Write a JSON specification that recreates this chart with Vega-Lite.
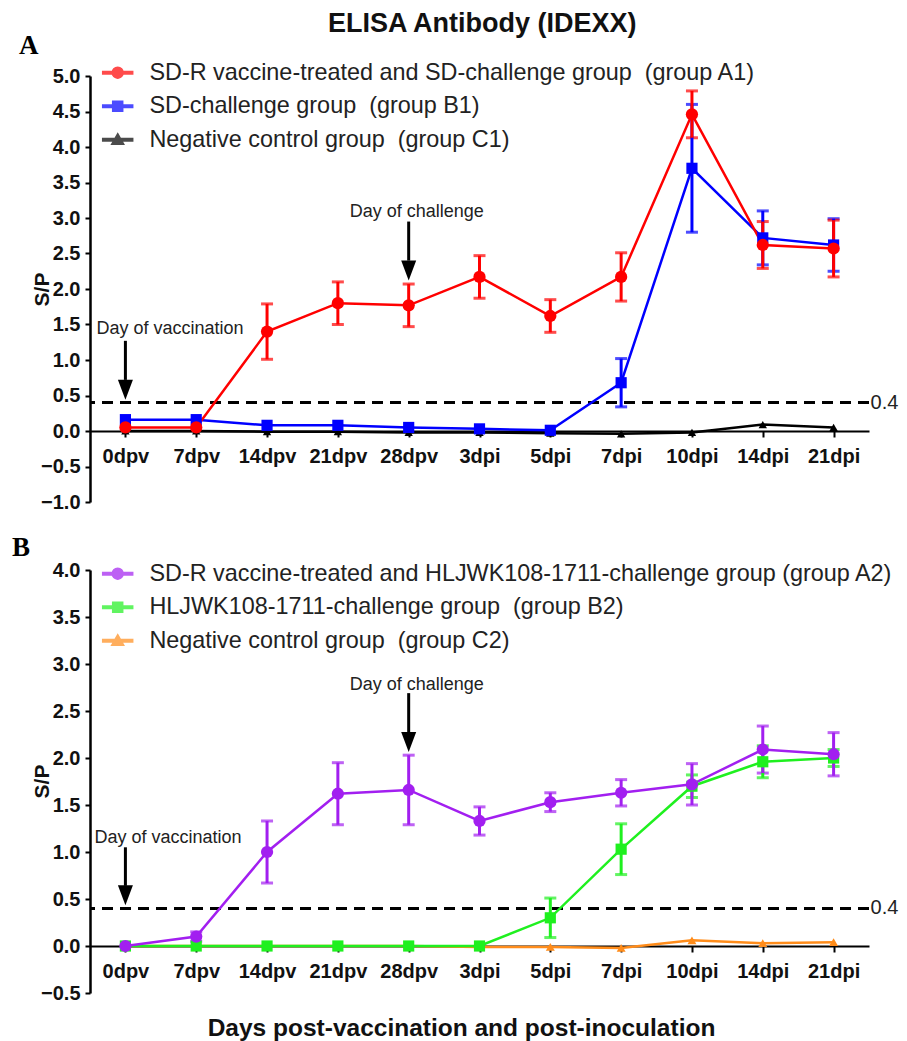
{
  "$schema": "https://vega.github.io/schema/vega-lite/v6.json",
  "background": "white",
  "padding": {"left": 12, "top": 10, "right": 4, "bottom": 4},
  "title": {"text": "ELISA Antibody (IDEXX)", "font": "Liberation Sans", "fontSize": 27, "fontWeight": "bold", "color": "#111", "anchor": "middle", "offset": -6, "dx": 27},
  "config": {
    "view": {"stroke": null},
    "axis": {"grid": false, "domainColor": "#000", "tickColor": "#000", "labelColor": "#111", "titleColor": "#111", "labelFont": "Liberation Sans", "titleFont": "Liberation Sans", "labelFontWeight": "bold", "titleFontWeight": "bold", "labelOverlap": false}
  },
  "datasets": {
    "sp": [
      {"panel": "A", "group": "C1", "day": "0dpv", "sp": 0.0, "sd": 0},
      {"panel": "A", "group": "C1", "day": "7dpv", "sp": 0.0, "sd": 0},
      {"panel": "A", "group": "C1", "day": "14dpv", "sp": -0.01, "sd": 0},
      {"panel": "A", "group": "C1", "day": "21dpv", "sp": -0.01, "sd": 0},
      {"panel": "A", "group": "C1", "day": "28dpv", "sp": -0.02, "sd": 0},
      {"panel": "A", "group": "C1", "day": "3dpi", "sp": -0.02, "sd": 0},
      {"panel": "A", "group": "C1", "day": "5dpi", "sp": -0.03, "sd": 0},
      {"panel": "A", "group": "C1", "day": "7dpi", "sp": -0.04, "sd": 0},
      {"panel": "A", "group": "C1", "day": "10dpi", "sp": -0.02, "sd": 0},
      {"panel": "A", "group": "C1", "day": "14dpi", "sp": 0.09, "sd": 0},
      {"panel": "A", "group": "C1", "day": "21dpi", "sp": 0.05, "sd": 0},
      {"panel": "A", "group": "B1", "day": "0dpv", "sp": 0.16, "sd": 0},
      {"panel": "A", "group": "B1", "day": "7dpv", "sp": 0.16, "sd": 0},
      {"panel": "A", "group": "B1", "day": "14dpv", "sp": 0.08, "sd": 0},
      {"panel": "A", "group": "B1", "day": "21dpv", "sp": 0.08, "sd": 0},
      {"panel": "A", "group": "B1", "day": "28dpv", "sp": 0.05, "sd": 0},
      {"panel": "A", "group": "B1", "day": "3dpi", "sp": 0.03, "sd": 0},
      {"panel": "A", "group": "B1", "day": "5dpi", "sp": 0.01, "sd": 0},
      {"panel": "A", "group": "B1", "day": "7dpi", "sp": 0.68, "sd": 0.34},
      {"panel": "A", "group": "B1", "day": "10dpi", "sp": 3.70, "sd": 0.90},
      {"panel": "A", "group": "B1", "day": "14dpi", "sp": 2.72, "sd": 0.38},
      {"panel": "A", "group": "B1", "day": "21dpi", "sp": 2.62, "sd": 0.37},
      {"panel": "A", "group": "A1", "day": "0dpv", "sp": 0.05, "sd": 0},
      {"panel": "A", "group": "A1", "day": "7dpv", "sp": 0.05, "sd": 0},
      {"panel": "A", "group": "A1", "day": "14dpv", "sp": 1.40, "sd": 0.39},
      {"panel": "A", "group": "A1", "day": "21dpv", "sp": 1.80, "sd": 0.30},
      {"panel": "A", "group": "A1", "day": "28dpv", "sp": 1.77, "sd": 0.30},
      {"panel": "A", "group": "A1", "day": "3dpi", "sp": 2.17, "sd": 0.30},
      {"panel": "A", "group": "A1", "day": "5dpi", "sp": 1.62, "sd": 0.23},
      {"panel": "A", "group": "A1", "day": "7dpi", "sp": 2.17, "sd": 0.34},
      {"panel": "A", "group": "A1", "day": "10dpi", "sp": 4.46, "sd": 0.33},
      {"panel": "A", "group": "A1", "day": "14dpi", "sp": 2.62, "sd": 0.33},
      {"panel": "A", "group": "A1", "day": "21dpi", "sp": 2.57, "sd": 0.40},
      {"panel": "B", "group": "C2", "day": "0dpv", "sp": 0.0, "sd": 0},
      {"panel": "B", "group": "C2", "day": "7dpv", "sp": 0.0, "sd": 0},
      {"panel": "B", "group": "C2", "day": "14dpv", "sp": 0.0, "sd": 0},
      {"panel": "B", "group": "C2", "day": "21dpv", "sp": 0.0, "sd": 0},
      {"panel": "B", "group": "C2", "day": "28dpv", "sp": 0.0, "sd": 0},
      {"panel": "B", "group": "C2", "day": "3dpi", "sp": -0.01, "sd": 0},
      {"panel": "B", "group": "C2", "day": "5dpi", "sp": -0.01, "sd": 0},
      {"panel": "B", "group": "C2", "day": "7dpi", "sp": -0.02, "sd": 0},
      {"panel": "B", "group": "C2", "day": "10dpi", "sp": 0.06, "sd": 0},
      {"panel": "B", "group": "C2", "day": "14dpi", "sp": 0.03, "sd": 0},
      {"panel": "B", "group": "C2", "day": "21dpi", "sp": 0.04, "sd": 0},
      {"panel": "B", "group": "B2", "day": "0dpv", "sp": 0.0, "sd": 0},
      {"panel": "B", "group": "B2", "day": "7dpv", "sp": 0.0, "sd": 0},
      {"panel": "B", "group": "B2", "day": "14dpv", "sp": 0.0, "sd": 0},
      {"panel": "B", "group": "B2", "day": "21dpv", "sp": 0.0, "sd": 0},
      {"panel": "B", "group": "B2", "day": "28dpv", "sp": 0.0, "sd": 0},
      {"panel": "B", "group": "B2", "day": "3dpi", "sp": 0.0, "sd": 0},
      {"panel": "B", "group": "B2", "day": "5dpi", "sp": 0.30, "sd": 0.21},
      {"panel": "B", "group": "B2", "day": "7dpi", "sp": 1.03, "sd": 0.27},
      {"panel": "B", "group": "B2", "day": "10dpi", "sp": 1.70, "sd": 0.12},
      {"panel": "B", "group": "B2", "day": "14dpi", "sp": 1.96, "sd": 0.17},
      {"panel": "B", "group": "B2", "day": "21dpi", "sp": 2.00, "sd": 0.09},
      {"panel": "B", "group": "A2", "day": "0dpv", "sp": 0.0, "sd": 0},
      {"panel": "B", "group": "A2", "day": "7dpv", "sp": 0.10, "sd": 0.05},
      {"panel": "B", "group": "A2", "day": "14dpv", "sp": 1.00, "sd": 0.33},
      {"panel": "B", "group": "A2", "day": "21dpv", "sp": 1.62, "sd": 0.33},
      {"panel": "B", "group": "A2", "day": "28dpv", "sp": 1.66, "sd": 0.37},
      {"panel": "B", "group": "A2", "day": "3dpi", "sp": 1.33, "sd": 0.15},
      {"panel": "B", "group": "A2", "day": "5dpi", "sp": 1.53, "sd": 0.10},
      {"panel": "B", "group": "A2", "day": "7dpi", "sp": 1.63, "sd": 0.14},
      {"panel": "B", "group": "A2", "day": "10dpi", "sp": 1.72, "sd": 0.22},
      {"panel": "B", "group": "A2", "day": "14dpi", "sp": 2.09, "sd": 0.25},
      {"panel": "B", "group": "A2", "day": "21dpi", "sp": 2.04, "sd": 0.23}
    ],
    "cutoff": [{"cutoff": 0.4}],
    "arrows": [
      {"panel": "A", "day": "0dpv", "top": 1.27, "base": 0.72, "head": 0.58},
      {"panel": "A", "day": "28dpv", "top": 2.95, "base": 2.40, "head": 2.26},
      {"panel": "B", "day": "0dpv", "top": 1.05, "base": 0.64, "head": 0.54},
      {"panel": "B", "day": "28dpv", "top": 2.69, "base": 2.27, "head": 2.17}
    ],
    "notes": [
      {"panel": "A", "kind": "vacc", "day": "0dpv", "y": 1.43, "label": "Day of vaccination"},
      {"panel": "A", "kind": "chal", "day": "28dpv", "y": 3.08, "label": "Day of challenge"},
      {"panel": "B", "kind": "vacc", "day": "0dpv", "y": 1.15, "label": "Day of vaccination"},
      {"panel": "B", "kind": "chal", "day": "28dpv", "y": 2.78, "label": "Day of challenge"}
    ]
  },
  "spacing": 22,
  "resolve": {"scale": {"color": "independent", "shape": "independent", "y": "independent"}, "legend": {"color": "independent"}},
  "vconcat": [
    {
      "width": 779, "height": 426,
      "title": {"text": "A", "anchor": "start", "frame": "group", "font": "Liberation Serif", "fontSize": 27, "fontWeight": "bold", "dx": -71, "offset": 1, "color": "#000"},
      "layer": [
        {
          "data": {"name": "cutoff"},
          "mark": {"type": "rule", "strokeDash": [11, 7], "strokeWidth": 3, "color": "#000"},
          "encoding": {"y": {"field": "cutoff", "type": "quantitative", "title": "S/P"}}
        },
        {
          "data": {"name": "cutoff"},
          "mark": {"type": "text", "align": "left", "baseline": "middle", "dx": 37, "fontSize": 20, "font": "Liberation Sans", "color": "#222"},
          "encoding": {
            "x": {"datum": "21dpi", "type": "ordinal", "title": null},
            "y": {"field": "cutoff", "type": "quantitative", "title": "S/P"},
            "text": {"field": "cutoff", "type": "quantitative", "format": ".1f"}
          }
        },
        {
          "data": {"name": "sp"},
          "transform": [{"filter": "datum.panel == 'A'"}],
          "mark": {"type": "line", "strokeWidth": 2.5},
          "encoding": {
            "x": {"field": "day", "type": "ordinal", "title": null, "sort": ["0dpv","7dpv","14dpv","21dpv","28dpv","3dpi","5dpi","7dpi","10dpi","14dpi","21dpi"],
                  "scale": {"type": "point", "padding": 0.5, "domain": ["0dpv","7dpv","14dpv","21dpv","28dpv","3dpi","5dpi","7dpi","10dpi","14dpi","21dpi"]},
                  "axis": {"offset": -71, "labelFontSize": 20, "labelPadding": 9, "labelAlign": "center", "labelBaseline": "top", "tickSize": 6, "tickWidth": 2, "domainWidth": 2, "labelAngle": 0}},
            "y": {"field": "sp", "type": "quantitative", "title": "S/P",
                  "scale": {"domain": [-1, 5], "nice": false, "zero": false},
                  "axis": {"values": [-1, -0.5, 0, 0.5, 1, 1.5, 2, 2.5, 3, 3.5, 4, 4.5, 5], "tickCount": 13, "labelOverlap": false, "format": ".1f", "labelFontSize": 20, "tickSize": 5, "tickWidth": 2, "domainWidth": 2.5, "labelPadding": 5, "titleFontSize": 21, "titleX": -48, "titleY": 213, "titleBaseline": "middle"}},
            "color": {"field": "group", "type": "nominal",
                      "scale": {"domain": ["A1", "B1", "C1"], "range": ["#ff0000", "#0000ff", "#000000"]},
                      "legend": {"orient": "none", "legendX": 16, "legendY": -15, "title": null, "symbolSize": 400, "symbolOpacity": 1, "labelFontSize": 23.4, "labelFont": "Liberation Sans", "labelColor": "#222", "labelOffset": 20, "rowPadding": 8.5, "labelLimit": 900,
                                 "labelExpr": "datum.value == 'A1' ? 'SD-R vaccine-treated and SD-challenge group\u00a0 (group A1)' : datum.value == 'B1' ? 'SD-challenge group\u00a0 (group B1)' : 'Negative control group\u00a0 (group C1)'"}}
          }
        },
        {
          "data": {"name": "sp"},
          "transform": [{"filter": "datum.panel == 'A' && datum.sd > 0"}],
          "mark": {"type": "errorbar", "ticks": true, "size": 12, "thickness": 3},
          "encoding": {
            "x": {"field": "day", "type": "ordinal", "title": null},
            "y": {"field": "sp", "type": "quantitative", "title": "S/P"},
            "yError": {"field": "sd"},
            "color": {"field": "group", "type": "nominal"}
          }
        },
        {
          "data": {"name": "sp"},
          "transform": [{"filter": "datum.panel == 'A'"}],
          "mark": {"type": "point", "filled": true, "size": 0, "opacity": 1},
          "encoding": {
            "x": {"field": "day", "type": "ordinal", "title": null},
            "y": {"field": "sp", "type": "quantitative", "title": "S/P"},
            "color": {"field": "group", "type": "nominal"},
            "shape": {"field": "group", "type": "nominal", "legend": null,
                      "scale": {"domain": ["A1", "B1", "C1"], "range": ["M-1.5,-0.13H-0.5V0.13H-1.5ZM0.5,-0.13H1.5V0.13H0.5ZM-0.55,0A0.55,0.55,0,1,0,0.55,0A0.55,0.55,0,1,0,-0.55,0Z", "M-1.5,-0.13H-0.5V0.13H-1.5ZM0.5,-0.13H1.5V0.13H0.5ZM-0.5,-0.5H0.5V0.5H-0.5Z", "M-1.5,-0.13H-0.32V0.13H-1.5ZM0.32,-0.13H1.5V0.13H0.32ZM0,-0.6L0.6,0.45L-0.6,0.45Z"]}}
          }
        },
        {
          "data": {"name": "sp"},
          "transform": [{"filter": "datum.panel == 'A' && datum.group == 'C1'"}],
          "mark": {"type": "point", "shape": "triangle-up", "filled": true, "opacity": 1, "size": 70},
          "encoding": {
            "x": {"field": "day", "type": "ordinal", "title": null},
            "y": {"field": "sp", "type": "quantitative", "title": "S/P"},
            "color": {"field": "group", "type": "nominal"}
          }
        },
        {
          "data": {"name": "sp"},
          "transform": [{"filter": "datum.panel == 'A' && datum.group == 'B1'"}],
          "mark": {"type": "point", "shape": "square", "filled": true, "opacity": 1, "size": 125},
          "encoding": {
            "x": {"field": "day", "type": "ordinal", "title": null},
            "y": {"field": "sp", "type": "quantitative", "title": "S/P"},
            "color": {"field": "group", "type": "nominal"}
          }
        },
        {
          "data": {"name": "sp"},
          "transform": [{"filter": "datum.panel == 'A' && datum.group == 'A1'"}],
          "mark": {"type": "point", "shape": "circle", "filled": true, "opacity": 1, "size": 150},
          "encoding": {
            "x": {"field": "day", "type": "ordinal", "title": null},
            "y": {"field": "sp", "type": "quantitative", "title": "S/P"},
            "color": {"field": "group", "type": "nominal"}
          }
        },
        {
          "data": {"name": "arrows"},
          "transform": [{"filter": "datum.panel == 'A'"}],
          "mark": {"type": "rule", "strokeWidth": 3, "color": "#000"},
          "encoding": {
            "x": {"field": "day", "type": "ordinal", "title": null},
            "y": {"field": "top", "type": "quantitative", "title": "S/P"},
            "y2": {"field": "base"}
          }
        },
        {
          "data": {"name": "arrows"},
          "transform": [{"filter": "datum.panel == 'A'"}],
          "mark": {"type": "point", "shape": "M-0.75,-1L0.75,-1L0,1Z", "size": 400, "filled": true, "color": "#000", "opacity": 1},
          "encoding": {
            "x": {"field": "day", "type": "ordinal", "title": null},
            "y": {"field": "head", "type": "quantitative", "title": "S/P"}
          }
        },
        {
          "data": {"name": "notes"},
          "transform": [{"filter": "datum.panel == 'A' && datum.kind == 'vacc'"}],
          "mark": {"type": "text", "align": "left", "baseline": "middle", "dx": -29, "fontSize": 18, "font": "Liberation Sans", "color": "#222"},
          "encoding": {
            "x": {"field": "day", "type": "ordinal", "title": null},
            "y": {"field": "y", "type": "quantitative", "title": "S/P"},
            "text": {"field": "label"}
          }
        },
        {
          "data": {"name": "notes"},
          "transform": [{"filter": "datum.panel == 'A' && datum.kind == 'chal'"}],
          "mark": {"type": "text", "align": "left", "baseline": "middle", "dx": -59, "fontSize": 18, "font": "Liberation Sans", "color": "#222"},
          "encoding": {
            "x": {"field": "day", "type": "ordinal", "title": null},
            "y": {"field": "y", "type": "quantitative", "title": "S/P"},
            "text": {"field": "label"}
          }
        }
      ]
    },
    {
      "width": 779, "height": 423,
      "title": {"text": "B", "anchor": "start", "frame": "group", "font": "Liberation Serif", "fontSize": 27, "fontWeight": "bold", "dx": -78, "offset": -2, "color": "#000"},
      "layer": [
        {
          "data": {"name": "cutoff"},
          "mark": {"type": "rule", "strokeDash": [11, 7], "strokeWidth": 3, "color": "#000"},
          "encoding": {"y": {"field": "cutoff", "type": "quantitative", "title": "S/P"}}
        },
        {
          "data": {"name": "cutoff"},
          "mark": {"type": "text", "align": "left", "baseline": "middle", "dx": 37, "fontSize": 20, "font": "Liberation Sans", "color": "#222"},
          "encoding": {
            "x": {"datum": "21dpi", "type": "ordinal", "title": "Days post-vaccination and post-inoculation"},
            "y": {"field": "cutoff", "type": "quantitative", "title": "S/P"},
            "text": {"field": "cutoff", "type": "quantitative", "format": ".1f"}
          }
        },
        {
          "data": {"name": "sp"},
          "transform": [{"filter": "datum.panel == 'B'"}],
          "mark": {"type": "line", "strokeWidth": 2.5},
          "encoding": {
            "x": {"field": "day", "type": "ordinal", "title": "Days post-vaccination and post-inoculation", "sort": ["0dpv","7dpv","14dpv","21dpv","28dpv","3dpi","5dpi","7dpi","10dpi","14dpi","21dpi"],
                  "scale": {"type": "point", "padding": 0.5, "domain": ["0dpv","7dpv","14dpv","21dpv","28dpv","3dpi","5dpi","7dpi","10dpi","14dpi","21dpi"]},
                  "axis": {"offset": -47, "labelFontSize": 20, "labelPadding": 9, "labelAlign": "center", "labelBaseline": "top", "tickSize": 6, "tickWidth": 2, "domainWidth": 2, "labelAngle": 0, "titleFontSize": 24.5, "titleX": 371, "titleY": 82, "titleBaseline": "middle"}},
            "y": {"field": "sp", "type": "quantitative", "title": "S/P",
                  "scale": {"domain": [-0.5, 4], "nice": false, "zero": false},
                  "axis": {"values": [-0.5, 0, 0.5, 1, 1.5, 2, 2.5, 3, 3.5, 4], "labelOverlap": false, "format": ".1f", "labelFontSize": 20, "tickSize": 5, "tickWidth": 2, "domainWidth": 2.5, "labelPadding": 5, "titleFontSize": 21, "titleX": -48, "titleY": 211, "titleBaseline": "middle"}},
            "color": {"field": "group", "type": "nominal",
                      "scale": {"domain": ["A2", "B2", "C2"], "range": ["#a21ff0", "#1ff01f", "#ff8c1a"]},
                      "legend": {"orient": "none", "legendX": 16, "legendY": -8, "title": null, "symbolSize": 400, "symbolOpacity": 1, "labelFontSize": 23.4, "labelFont": "Liberation Sans", "labelColor": "#222", "labelOffset": 20, "rowPadding": 8.5, "labelLimit": 900,
                                 "labelExpr": "datum.value == 'A2' ? 'SD-R vaccine-treated and HLJWK108-1711-challenge group (group A2)' : datum.value == 'B2' ? 'HLJWK108-1711-challenge group\u00a0 (group B2)' : 'Negative control group\u00a0 (group C2)'"}}
          }
        },
        {
          "data": {"name": "sp"},
          "transform": [{"filter": "datum.panel == 'B' && datum.sd > 0"}],
          "mark": {"type": "errorbar", "ticks": true, "size": 12, "thickness": 3},
          "encoding": {
            "x": {"field": "day", "type": "ordinal", "title": "Days post-vaccination and post-inoculation"},
            "y": {"field": "sp", "type": "quantitative", "title": "S/P"},
            "yError": {"field": "sd"},
            "color": {"field": "group", "type": "nominal"}
          }
        },
        {
          "data": {"name": "sp"},
          "transform": [{"filter": "datum.panel == 'B'"}],
          "mark": {"type": "point", "filled": true, "size": 0, "opacity": 1},
          "encoding": {
            "x": {"field": "day", "type": "ordinal", "title": "Days post-vaccination and post-inoculation"},
            "y": {"field": "sp", "type": "quantitative", "title": "S/P"},
            "color": {"field": "group", "type": "nominal"},
            "shape": {"field": "group", "type": "nominal", "legend": null,
                      "scale": {"domain": ["A2", "B2", "C2"], "range": ["M-1.5,-0.13H-0.5V0.13H-1.5ZM0.5,-0.13H1.5V0.13H0.5ZM-0.55,0A0.55,0.55,0,1,0,0.55,0A0.55,0.55,0,1,0,-0.55,0Z", "M-1.5,-0.13H-0.5V0.13H-1.5ZM0.5,-0.13H1.5V0.13H0.5ZM-0.5,-0.5H0.5V0.5H-0.5Z", "M-1.5,-0.13H-0.32V0.13H-1.5ZM0.32,-0.13H1.5V0.13H0.32ZM0,-0.6L0.6,0.45L-0.6,0.45Z"]}}
          }
        },
        {
          "data": {"name": "sp"},
          "transform": [{"filter": "datum.panel == 'B' && datum.group == 'C2'"}],
          "mark": {"type": "point", "shape": "triangle-up", "filled": true, "opacity": 1, "size": 80},
          "encoding": {
            "x": {"field": "day", "type": "ordinal", "title": "Days post-vaccination and post-inoculation"},
            "y": {"field": "sp", "type": "quantitative", "title": "S/P"},
            "color": {"field": "group", "type": "nominal"}
          }
        },
        {
          "data": {"name": "sp"},
          "transform": [{"filter": "datum.panel == 'B' && datum.group == 'B2'"}],
          "mark": {"type": "point", "shape": "square", "filled": true, "opacity": 1, "size": 125},
          "encoding": {
            "x": {"field": "day", "type": "ordinal", "title": "Days post-vaccination and post-inoculation"},
            "y": {"field": "sp", "type": "quantitative", "title": "S/P"},
            "color": {"field": "group", "type": "nominal"}
          }
        },
        {
          "data": {"name": "sp"},
          "transform": [{"filter": "datum.panel == 'B' && datum.group == 'A2'"}],
          "mark": {"type": "point", "shape": "circle", "filled": true, "opacity": 1, "size": 150},
          "encoding": {
            "x": {"field": "day", "type": "ordinal", "title": "Days post-vaccination and post-inoculation"},
            "y": {"field": "sp", "type": "quantitative", "title": "S/P"},
            "color": {"field": "group", "type": "nominal"}
          }
        },
        {
          "data": {"name": "arrows"},
          "transform": [{"filter": "datum.panel == 'B'"}],
          "mark": {"type": "rule", "strokeWidth": 3, "color": "#000"},
          "encoding": {
            "x": {"field": "day", "type": "ordinal", "title": "Days post-vaccination and post-inoculation"},
            "y": {"field": "top", "type": "quantitative", "title": "S/P"},
            "y2": {"field": "base"}
          }
        },
        {
          "data": {"name": "arrows"},
          "transform": [{"filter": "datum.panel == 'B'"}],
          "mark": {"type": "point", "shape": "M-0.75,-1L0.75,-1L0,1Z", "size": 400, "filled": true, "color": "#000", "opacity": 1},
          "encoding": {
            "x": {"field": "day", "type": "ordinal", "title": "Days post-vaccination and post-inoculation"},
            "y": {"field": "head", "type": "quantitative", "title": "S/P"}
          }
        },
        {
          "data": {"name": "notes"},
          "transform": [{"filter": "datum.panel == 'B' && datum.kind == 'vacc'"}],
          "mark": {"type": "text", "align": "left", "baseline": "middle", "dx": -31, "fontSize": 18, "font": "Liberation Sans", "color": "#222"},
          "encoding": {
            "x": {"field": "day", "type": "ordinal", "title": "Days post-vaccination and post-inoculation"},
            "y": {"field": "y", "type": "quantitative", "title": "S/P"},
            "text": {"field": "label"}
          }
        },
        {
          "data": {"name": "notes"},
          "transform": [{"filter": "datum.panel == 'B' && datum.kind == 'chal'"}],
          "mark": {"type": "text", "align": "left", "baseline": "middle", "dx": -59, "fontSize": 18, "font": "Liberation Sans", "color": "#222"},
          "encoding": {
            "x": {"field": "day", "type": "ordinal", "title": "Days post-vaccination and post-inoculation"},
            "y": {"field": "y", "type": "quantitative", "title": "S/P"},
            "text": {"field": "label"}
          }
        }
      ]
    }
  ]
}
